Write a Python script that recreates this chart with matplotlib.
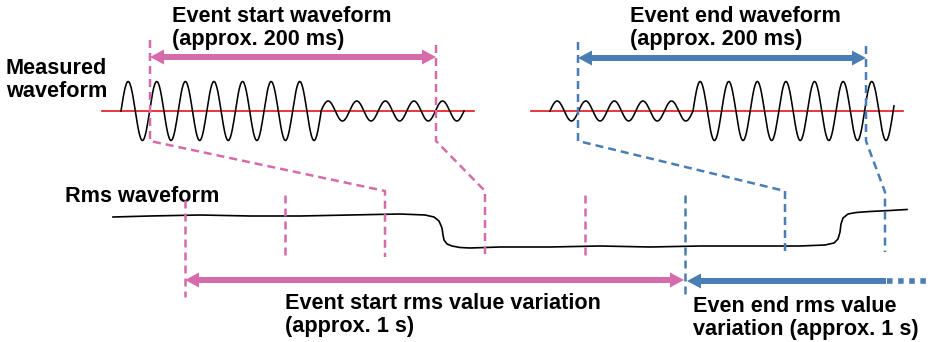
import numpy as np
import matplotlib.pyplot as plt

# colours
pink = '#D56BAA'
blue = '#4A7DB4'
red = '#E8141B'

# measured waveform segments: (x start, x end, amplitude), in pixel units
wave_left_x0 = [121, 321]
wave_left_x1 = [321, 464]
wave_left_amp = [29.5, 10]
wave_right_x0 = [550, 693]
wave_right_x1 = [693, 894]
wave_right_amp = [10, 29.5]
wave_period = 28.6
wave_base_y = 111
baseline_left = [102, 474]
baseline_right = [531, 903]

# rms waveform
rms_x = [113, 150, 200, 250, 300, 350, 400, 425, 434, 439, 442, 443, 444, 447, 452, 460, 470,
         500, 550, 600, 650, 700, 750, 800, 825, 834, 838, 840, 841, 843, 848, 856, 870, 890, 907]
rms_y = [217, 216, 215, 216, 216, 215, 214, 215, 217, 221, 228, 235, 240, 244, 246, 247.5, 248,
         247, 247, 246, 247, 246, 246, 246, 245, 243, 239, 232, 224, 218, 214, 212.5, 211.5, 210.5, 209.5]

# dashed guides
pink_guides = [
    ([150, 150, 385, 385], [40, 141, 191, 257]),
    ([436, 436, 485, 485], [45, 141, 191, 257]),
    ([185, 185], [200, 297]),
    ([285, 285], [195, 257]),
    ([585, 585], [195, 257]),
]
blue_guides = [
    ([578, 578, 785, 785], [42, 141, 191, 252]),
    ([866, 866, 885, 885], [46, 141, 192, 252]),
    ([685, 685], [195, 297]),
]

fig = plt.figure(figsize=(9.29, 3.42), dpi=100)
ax = fig.add_axes([0, 0, 1, 1])
ax.set_xlim(0, 929)
ax.set_ylim(342, 0)
ax.axis('off')


def draw_wave(x0s, x1s, amps):
    for x0, x1, a in zip(x0s, x1s, amps):
        x = np.linspace(x0, x1, 400)
        y = wave_base_y - a * np.sin(2 * np.pi * (x - x0) / wave_period)
        ax.plot(x, y, color='black', lw=1.15, zorder=3)


ax.plot(baseline_left, [wave_base_y] * 2, color=red, lw=1.2, zorder=2)
ax.plot(baseline_right, [wave_base_y] * 2, color=red, lw=1.2, zorder=2)
draw_wave(wave_left_x0, wave_left_x1, wave_left_amp)
draw_wave(wave_right_x0, wave_right_x1, wave_right_amp)

ax.plot(rms_x, rms_y, color='black', lw=1.2, zorder=3)

for gx, gy in pink_guides:
    ax.plot(gx, gy, color=pink, lw=1.8, dashes=(3.2, 2.0), zorder=4)
for gx, gy in blue_guides:
    ax.plot(gx, gy, color=blue, lw=1.8, dashes=(3.2, 2.0), zorder=4)


def arrow(x_tail, x_tip, y, color):
    # filled arrow, head at x_tip
    ax.arrow(x_tail, y, x_tip - x_tail, 0, width=6, head_width=15, head_length=14,
             length_includes_head=True, color=color, lw=0, zorder=5)


def double_arrow(x0, x1, y, color):
    mid = (x0 + x1) / 2
    arrow(mid + 1, x0, y, color)
    arrow(mid - 1, x1, y, color)


double_arrow(150, 436, 57, pink)
double_arrow(578, 866, 58, blue)
double_arrow(185, 684, 280, pink)
arrow(886, 687, 281, blue)
ax.plot([887, 927], [281, 281], color=blue, lw=4.0, dashes=(1.0, 1.0), solid_capstyle='butt')

tkw = dict(fontsize=15.6, fontweight='bold', family=['Liberation Sans', 'DejaVu Sans'],
           va='top', ha='left', linespacing=1.1)
ax.text(172, 6.5, 'Event start waveform\n(approx. 200 ms)', **tkw)
ax.text(630, 6.5, 'Event end waveform\n(approx. 200 ms)', **tkw)
ax.text(6, 58, 'Measured\nwaveform', **tkw)
ax.text(65, 186, 'Rms waveform', **tkw)
ax.text(285, 293, 'Event start rms value variation\n(approx. 1 s)', **tkw)
ax.text(693, 296, 'Even end rms value\nvariation (approx. 1 s)', **tkw)

fig.savefig('out.png', dpi=100)
